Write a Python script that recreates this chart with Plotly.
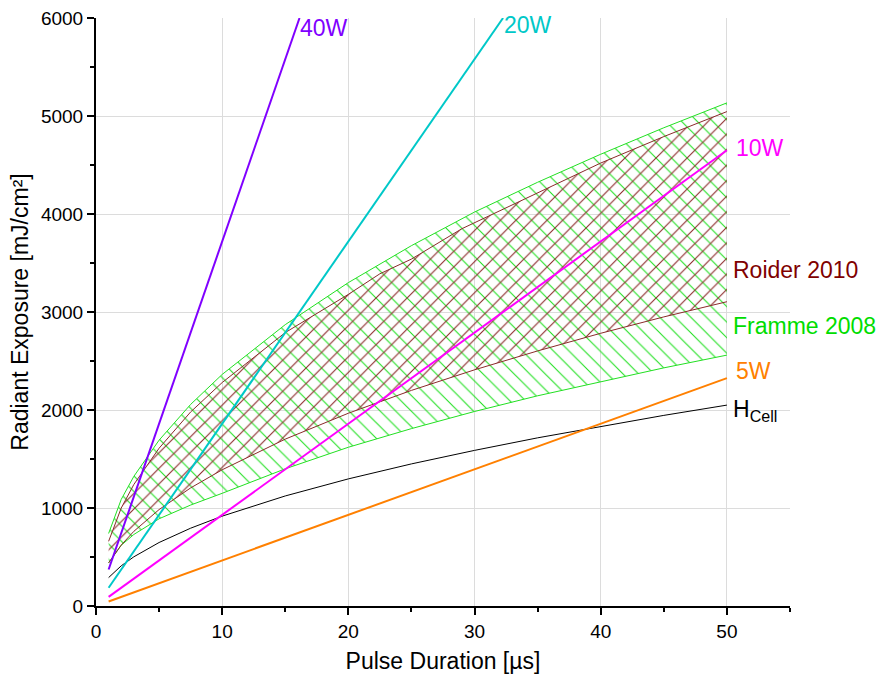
import plotly.graph_objects as go

# ---- data ----
t_band = [1, 2, 3, 5, 7.5, 10, 15, 20, 25, 30, 35, 40, 45, 50]
framme_upper = [740, 1088, 1323, 1692, 2057, 2363, 2871, 3300, 3677, 4020, 4324, 4610, 4880, 5134]
framme_lower = [440, 620, 730, 890, 1030, 1150, 1400, 1620, 1810, 1985, 2145, 2290, 2430, 2560]

t_roider_up = [1, 2, 3, 5, 7.5, 10, 15, 20, 22.5, 25, 29, 35, 40, 45, 50]
roider_upper = [660, 1000, 1240, 1610, 1980, 2280, 2790, 3180, 3390, 3540, 3850, 4220, 4520, 4790, 5045]
roider_lower = [440, 622, 762, 984, 1205, 1390, 1703, 1967, 2200, 2410, 2603, 2783, 2950, 3105]

t_cell = [1, 2, 3, 5, 7.5, 10, 15, 20, 25, 30, 35, 40, 45, 50]
h_cell = [290, 410, 502, 648, 794, 917, 1123, 1297, 1450, 1588, 1716, 1834, 1945, 2050]

t_40w = [1, 16.13]
h_40w = [372, 6000]
t_20w = [1, 32.26]
h_20w = [186, 6000]
t_10w = [1, 50]
h_10w = [93, 4650]
t_5w = [1, 50]
h_5w = [46.5, 2325]

x_ticks = [0, 10, 20, 30, 40, 50]
y_ticks = [0, 1000, 2000, 3000, 4000, 5000, 6000]

GREEN = "#22e022"
BROWN = "#8b2a2a"
FONT = "Liberation Sans, Arial, sans-serif"

fig = go.Figure()

# Framme 2008 band
fig.add_trace(go.Scatter(x=t_band, y=framme_lower, mode="lines",
                         line=dict(color=GREEN, width=1), showlegend=False))
fig.add_trace(go.Scatter(x=t_band, y=framme_upper, mode="lines",
                         line=dict(color=GREEN, width=1), fill="tonexty",
                         fillcolor="rgba(0,0,0,0)",
                         fillpattern=dict(shape="\\", fgcolor=GREEN, bgcolor="rgba(0,0,0,0)",
                                          size=11, solidity=0.1, fillmode="replace"),
                         showlegend=False))
# Roider 2010 band
fig.add_trace(go.Scatter(x=t_band, y=roider_lower, mode="lines",
                         line=dict(color=BROWN, width=1), showlegend=False))
fig.add_trace(go.Scatter(x=t_roider_up, y=roider_upper, mode="lines",
                         line=dict(color=BROWN, width=1), fill="tonexty",
                         fillcolor="rgba(0,0,0,0)",
                         fillpattern=dict(shape="/", fgcolor=BROWN, bgcolor="rgba(0,0,0,0)",
                                          size=11, solidity=0.1, fillmode="replace"),
                         showlegend=False))

# H_cell
fig.add_trace(go.Scatter(x=t_cell, y=h_cell, mode="lines",
                         line=dict(color="black", width=1), showlegend=False))

# power lines
for xs, ys, col in [(t_5w, h_5w, "#ff8000"), (t_10w, h_10w, "#ff00ff"),
                    (t_20w, h_20w, "#00c8c8"), (t_40w, h_40w, "#8000ff")]:
    fig.add_trace(go.Scatter(x=xs, y=ys, mode="lines",
                             line=dict(color=col, width=2), showlegend=False))

labels = [
    (16.0, 5900, "40W", "#8000ff"),
    (32.2, 5930, "20W", "#00c8c8"),
    (50.55, 4673, "10W", "#ff00ff"),
    (50.3, 3429, "Roider 2010", "#800000"),
    (50.3, 2857, "Framme 2008", "#00dd00"),
    (50.55, 2398, "5W", "#ff8000"),
    (50.3, 2000, "H<sub>Cell</sub>", "black"),
]
for x, y, txt, col in labels:
    fig.add_annotation(x=x, y=y, text=txt, showarrow=False, xanchor="left", yanchor="middle",
                       font=dict(family=FONT, size=23, color=col))

fig.update_layout(
    width=879, height=679,
    margin=dict(l=96, r=89, t=18, b=73, autoexpand=False),
    paper_bgcolor="white", plot_bgcolor="white",
    font=dict(family=FONT, color="black"),
)
fig.update_xaxes(range=[0, 55], tickvals=x_ticks, showgrid=True, gridcolor="#dcdcdc", gridwidth=1,
                 showline=True, linecolor="black", linewidth=2, ticks="outside", ticklen=7,
                 tickwidth=2, tickcolor="black", tickfont=dict(size=19), automargin=False,
                 minor=dict(tickvals=[5, 15, 25, 35, 45, 55], ticks="outside", ticklen=4,
                            tickcolor="black", tickwidth=2, showgrid=False),
                 zeroline=False,
                 title=dict(text="Pulse Duration [µs]", font=dict(size=23), standoff=12))
fig.update_yaxes(range=[0, 6000], tickvals=y_ticks, showgrid=True, gridcolor="#dcdcdc", gridwidth=1,
                 showline=True, linecolor="black", linewidth=2, ticks="outside", ticklen=7,
                 tickwidth=2, tickcolor="black", tickfont=dict(size=19), automargin=False,
                 minor=dict(tickvals=[500, 1500, 2500, 3500, 4500, 5500], ticks="outside", ticklen=4,
                            tickcolor="black", tickwidth=2, showgrid=False),
                 zeroline=False,
                 title=dict(text="Radiant Exposure [mJ/cm²]", font=dict(size=23), standoff=6))

fig.write_html("out.html")
